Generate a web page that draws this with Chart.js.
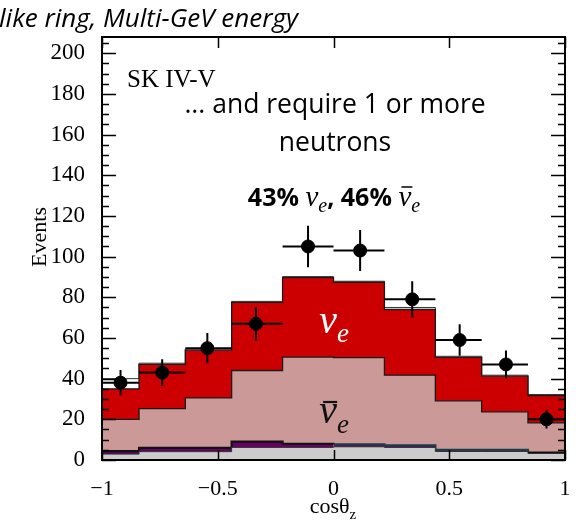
<!DOCTYPE html>
<html>
<head>
<meta charset="utf-8">
<script src="https://cdn.jsdelivr.net/npm/chart.js@4.4.0/dist/chart.umd.min.js"></script>
<style>
  html, body { margin: 0; padding: 0; background: #fff; }
  #wrap { width: 582px; height: 520px; }
</style>
</head>
<body>
<div id="wrap"><canvas id="plot" width="582" height="520"></canvas></div>
<script>
// bin edges in cos(theta_z)
const binEdges = [-1, -0.84, -0.64, -0.44, -0.22, 0, 0.22, 0.44, 0.64, 0.84, 1];
// data points
const dataX = [-0.92, -0.74, -0.545, -0.335, -0.11, 0.115, 0.34, 0.545, 0.745, 0.92];
const dataCounts = [38, 43, 55, 67, 105, 103, 79, 59, 47, 20];
const dataErrors = [6.2, 6.6, 7.4, 8.2, 10.2, 10.1, 8.9, 7.7, 6.9, 4.5];
// stacked MC (cumulative tops of each layer)
const ncTop = [2.9, 4.1, 4.1, 6.2, 6.2, 6.5, 6.2, 4.2, 4.2, 3.2];
const otherTop = [4.4, 6, 6, 9, 8, 7.7, 7.2, 5, 5, 3.7];
const nuebarTop = [20, 25.3, 30.5, 44, 50.6, 50.3, 41.7, 29.1, 23.7, 18.3];
const nueTop = [35, 47, 54, 77.5, 89.7, 87.4, 74, 50.5, 41.2, 31.7];
const totalTop = [40, 47.6, 54.6, 78, 90.2, 87.9, 75, 51, 41.7, 32.2];
// axis ticks
const xTicks = [-1, -0.5, 0, 0.5, 1];
const yTicks = [0, 20, 40, 60, 80, 100, 120, 140, 160, 180, 200];

const SERIF = "'Liberation Serif', 'DejaVu Serif', serif";
const SANS = "'Open Sans', 'Noto Sans', sans-serif";

// one point per bin edge, the last bin repeated at x = 1
function stepPoints(tops) {
  return binEdges.map((x, i) => ({ x: x, y: tops[Math.min(i, tops.length - 1)] }));
}

function layer(label, tops, bg, border, width) {
  return {
    label: label,
    data: stepPoints(tops),
    stepped: "before",
    fill: bg ? "origin" : false,
    backgroundColor: bg || "transparent",
    borderColor: border,
    borderWidth: width,
    pointRadius: 0,
  };
}

// draw text made of several pieces (fonts, sub-scripts)
function drawRich(ctx, parts, cx, y, color) {
  let w = 0;
  parts.forEach((p) => {
    ctx.font = p.f;
    w += ctx.measureText(p.t).width + (p.gap || 0);
  });
  let x = cx - w / 2;
  ctx.fillStyle = color;
  ctx.strokeStyle = color;
  ctx.textAlign = "left";
  ctx.textBaseline = "alphabetic";
  parts.forEach((p) => {
    ctx.font = p.f;
    const pw = ctx.measureText(p.t).width;
    ctx.fillText(p.t, x, y + (p.dy || 0));
    if (p.bar) {
      ctx.lineWidth = p.bar.lw;
      ctx.beginPath();
      ctx.moveTo(x + p.bar.x0, y + p.bar.y);
      ctx.lineTo(x + p.bar.x1, y + p.bar.y);
      ctx.stroke();
    }
    x += pw + (p.gap || 0);
  });
}

const decorations = {
  id: "decorations",
  afterDatasetsDraw(chart) {
    const ctx = chart.ctx;
    const xs = chart.scales.x;
    const ys = chart.scales.y;
    // error bars of the data
    ctx.save();
    ctx.strokeStyle = "#000";
    ctx.lineWidth = 2;
    dataCounts.forEach((v, i) => {
      const px = xs.getPixelForValue(dataX[i]);
      const py = ys.getPixelForValue(v);
      ctx.beginPath();
      ctx.moveTo(xs.getPixelForValue(binEdges[i]), py);
      ctx.lineTo(xs.getPixelForValue(binEdges[i + 1]), py);
      ctx.moveTo(px, ys.getPixelForValue(v - dataErrors[i]));
      ctx.lineTo(px, ys.getPixelForValue(v + dataErrors[i]));
      ctx.stroke();
    });
    ctx.restore();
  },
  afterDraw(chart) {
    const ctx = chart.ctx;
    const a = chart.chartArea;
    const xs = chart.scales.x;
    const ys = chart.scales.y;
    ctx.save();
    ctx.strokeStyle = "#000";
    ctx.lineWidth = 1.5;
    // y ticks, both sides, minor every 5
    ctx.beginPath();
    for (let v = 0; v <= 205; v += 5) {
      const py = Math.round(ys.getPixelForValue(v)) + 0.5;
      const len = v % 20 === 0 ? 14 : 7;
      ctx.moveTo(a.left, py);
      ctx.lineTo(a.left + len, py);
      ctx.moveTo(a.right, py);
      ctx.lineTo(a.right - len, py);
    }
    xTicks.forEach((v) => {
      const px = Math.round(xs.getPixelForValue(v)) + 0.5;
      ctx.moveTo(px, a.bottom);
      ctx.lineTo(px, a.bottom - 10);
      ctx.moveTo(px, a.top);
      ctx.lineTo(px, a.top + 11);
    });
    ctx.stroke();
    // frame
    ctx.lineWidth = 2;
    ctx.strokeRect(a.left, a.top, a.right - a.left, a.bottom - a.top);

    // axis titles
    ctx.fillStyle = "#000";
    ctx.font = "22px " + SERIF;
    ctx.textAlign = "center";
    ctx.textBaseline = "middle";
    ctx.save();
    ctx.translate(40, 237);
    ctx.rotate(-Math.PI / 2);
    ctx.fillText("Events", 0, 0);
    ctx.restore();
    drawRich(ctx, [
      { t: "cosθ", f: "22px " + SERIF },
      { t: "z", f: "15px " + SERIF, dy: 6 },
    ], 333, 513, "#000");

    // header, cut at the left edge
    ctx.font = "italic 26px " + SANS;
    ctx.textAlign = "left";
    ctx.textBaseline = "alphabetic";
    ctx.fillText("like ring, Multi-GeV energy", -1, 27);

    // annotations
    ctx.font = "25px " + SERIF;
    ctx.fillText("SK IV-V", 127, 87);
    ctx.font = "26.5px " + SANS;
    ctx.textAlign = "center";
    ctx.fillText("... and require 1 or more", 335, 113);
    ctx.fillText("neutrons", 335, 151);

    const nuF = "italic 29px " + SERIF;
    const subF = "italic 20px " + SERIF;
    drawRich(ctx, [
      { t: "43% ", f: "bold 25px " + SANS },
      { t: "ν", f: nuF },
      { t: "e", f: subF, dy: 6 },
      { t: ", 46% ", f: "bold 25px " + SANS },
      { t: "ν", f: nuF, bar: { x0: 3, x1: 14, y: -19, lw: 1.5 } },
      { t: "e", f: subF, dy: 6 },
    ], 334, 206, "#000");

    drawRich(ctx, [
      { t: "ν", f: "italic 40px " + SERIF },
      { t: "e", f: "italic 27px " + SERIF, dy: 9 },
    ], 334, 333, "#fff");
    drawRich(ctx, [
      { t: "ν", f: "italic 40px " + SERIF, bar: { x0: 4, x1: 18, y: -21, lw: 2.2 } },
      { t: "e", f: "italic 27px " + SERIF, dy: 10 },
    ], 334, 423, "#111");
    ctx.restore();
  },
};

const purpleBorder = (c) => (c.p0DataIndex >= 5 && c.p0DataIndex <= 8 ? "#1d3d4c" : "#111");

new Chart(document.getElementById("plot"), {
  type: "line",
  data: {
    datasets: [
      {
        type: "scatter",
        label: "Data",
        data: dataCounts.map((v, i) => ({ x: dataX[i], y: v })),
        pointRadius: 6.5,
        pointBackgroundColor: "#000",
        pointBorderColor: "#000",
        order: -1,
      },
      layer("NC", ncTop, "#cccccc", "#333", 1),
      Object.assign(layer("other", otherTop, "#660066", "#111", 2.2), {
        segment: { borderColor: purpleBorder },
      }),
      layer("nuebar", nuebarTop, "#cc9999", "#1a1a1a", 1.3),
      layer("nue", nueTop, "#cc0000", "#1a1a1a", 1.3),
      layer("total", totalTop, null, "#333", 1),
    ],
  },
  options: {
    responsive: false,
    animation: false,
    layout: { padding: { left: 0, right: 17, top: 37, bottom: 0 } },
    plugins: {
      legend: { display: false },
      tooltip: { enabled: false },
      title: { display: false },
    },
    scales: {
      x: {
        type: "linear",
        min: -1,
        max: 1,
        afterBuildTicks: (s) => { s.ticks = xTicks.map((v) => ({ value: v })); },
        afterFit: (s) => { s.height = 60; },
        grid: { display: false },
        border: { display: false },
        ticks: {
          color: "#000",
          padding: 8,
          maxRotation: 0,
          font: { family: SERIF, size: 22 },
          callback: (v) => String(v).replace("-", "\u2212"),
        },
      },
      y: {
        type: "linear",
        min: 0,
        max: 208,
        afterBuildTicks: (s) => { s.ticks = yTicks.map((v) => ({ value: v })); },
        afterFit: (s) => { s.width = 102; },
        grid: { display: false },
        border: { display: false },
        ticks: {
          color: "#000",
          padding: 9,
          font: { family: SERIF, size: 23 },
        },
      },
    },
  },
  plugins: [decorations],
});
</script>
</body>
</html>
